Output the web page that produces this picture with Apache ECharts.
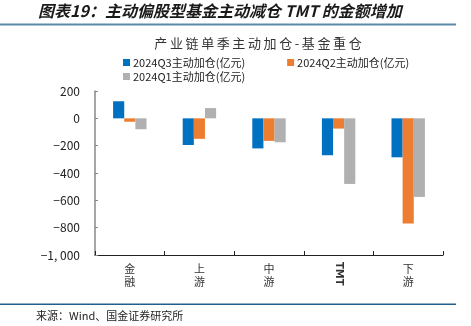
<!DOCTYPE html>
<html><head><meta charset="utf-8">
<script src="https://cdn.jsdelivr.net/npm/echarts@6/dist/echarts.min.js"></script>
<style>html,body{margin:0;padding:0;background:#fff}#c{width:471px;height:326px}</style>
</head><body><div id="c"></div>
<script>
const categories = ['金融', '上游', '中游', 'TMT', '下游'];
const seriesNames = ['2024Q3主动加仓(亿元)', '2024Q2主动加仓(亿元)', '2024Q1主动加仓(亿元)'];
const q3 = [125, -195, -220, -270, -285];
const q2 = [-25, -150, -165, -75, -770];
const q1 = [-80, 75, -175, -480, -575];
const colors = ['#0070C0', '#ED7D31', '#B0B0B0'];
const yTicks = [200, 0, -200, -400, -600, -800, -1000];

const chart = echarts.init(document.getElementById('c'));
const font = '"Noto Sans CJK SC", "DejaVu Sans", sans-serif';
const isLatin = s => /^[A-Za-z]+$/.test(s);
function fmt(v){ const s = Math.abs(v).toLocaleString('en-US').replace(',', ', '); return (v < 0 ? '\u2212' : '') + s; }
function vert(s){ return s.split('').join('\n'); }
const chartTitle = '产业链单季主动加仓-基金重仓'.split('').join('\u2009');

chart.setOption({
  animation: false,
  textStyle: {fontFamily: font},
  title: {
    text: chartTitle, left: 253, top: 32, textAlign: 'center',
    textStyle: {fontSize: 13, fontWeight: 'normal', color: '#333', fontFamily: font}
  },
  legend: [
    {data: [seriesNames[0], seriesNames[1]], left: 118, top: 52, itemWidth: 7, itemHeight: 7, itemGap: 42,
     icon: 'rect', textStyle: {fontSize: 11, color: '#222', padding: [0,0,0,-2]}},
    {data: [seriesNames[2]], left: 118, top: 66, itemWidth: 7, itemHeight: 7,
     icon: 'rect', textStyle: {fontSize: 11, color: '#222', padding: [0,0,0,-2]}}
  ],
  graphic: [
    {type: 'text', left: 38, top: 3, style: {text: '图表19：主动偏股型基金主动减仓 TMT 的金额增加', font: 'italic bold 16px "Noto Sans CJK SC"', fill: '#1a1a1a'}},
    {type: 'rect', shape: {x: 0, y: 23.5, width: 456, height: 2}, style: {fill: '#5A8AA8'}},
    {type: 'rect', shape: {x: 0, y: 303.5, width: 456, height: 1.5}, style: {fill: '#1F5F8B'}},
    {type: 'text', left: 36, top: 310, style: {text: '来源：Wind、国金证券研究所', fontSize: 11, fill: '#222', fontFamily: font}}
  ],
  grid: {left: 95, right: 28, top: 91, bottom: 71},
  xAxis: [
    {type: 'category', data: categories, position: 'bottom',
     axisLine: {show: false}, axisTick: {show: false},
     axisLabel: {interval: (i, v) => !isLatin(v), formatter: vert, fontSize: 11, color: '#333', lineHeight: 13, margin: 7}},
    {type: 'category', data: categories, position: 'bottom',
     axisLine: {onZero: true, lineStyle: {color: '#222', width: 1}},
     axisTick: {show: true, inside: true, length: 4, lineStyle: {color: '#222'}},
     axisLabel: {show: false}},
    {type: 'category', data: categories, position: 'bottom',
     axisLine: {show: false}, axisTick: {show: false},
     axisLabel: {interval: (i, v) => isLatin(v), rotate: -90, fontSize: 10, fontWeight: 'bold', color: '#333', fontFamily: '"DejaVu Sans"', margin: 7}}
  ],
  yAxis: {
    type: 'value', min: -1000, max: 200, interval: 200,
    axisLine: {show: true, lineStyle: {color: '#888', width: 1.5}},
    axisTick: {show: true, inside: true, length: 3, lineStyle: {color: '#888'}},
    splitLine: {show: false},
    axisLabel: {formatter: fmt, fontSize: 12, color: '#222', margin: 15}
  },
  series: [q3, q2, q1].map((d, i) => ({
    name: seriesNames[i], type: 'bar', data: d, xAxisIndex: 0,
    itemStyle: {color: colors[i]}, barGap: '0%', barCategoryGap: '52%'
  }))
});
</script></body></html>
